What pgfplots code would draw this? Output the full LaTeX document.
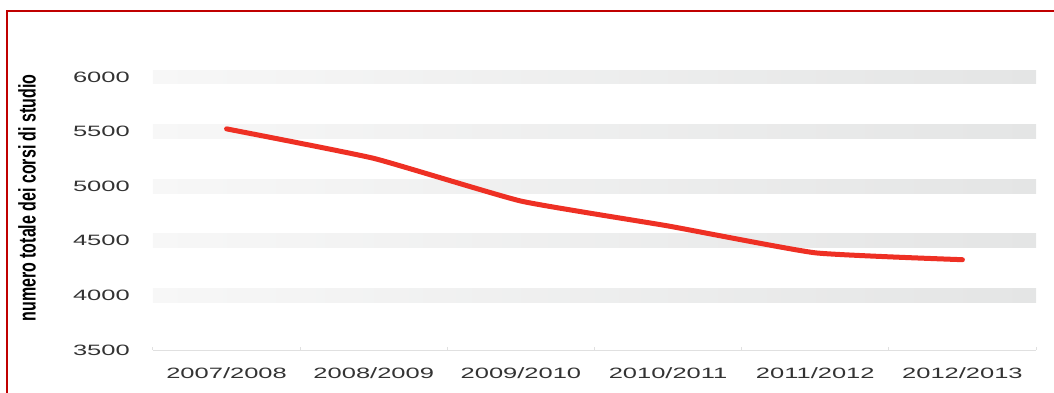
\documentclass[border=0pt]{standalone}
\usepackage{pgfplots}
\pgfplotsset{compat=1.18}
\usepackage{fontspec}
\setmainfont{Liberation Sans}
\definecolor{frame}{HTML}{C00000}
\definecolor{linered}{HTML}{EE3024}
\definecolor{bandL}{HTML}{F7F7F7}
\definecolor{bandR}{HTML}{E4E5E5}
\definecolor{tickc}{HTML}{333333}
\begin{document}
\begin{tikzpicture}
\clip (0,0) rectangle (1054pt,392pt);
\draw[frame, line width=2pt] (7pt,381pt) rectangle (1080pt,-20pt);
\begin{axis}[
  at={(153pt,42pt)}, anchor=south west,
  width=883pt, height=273pt, scale only axis,
  xmin=-0.5, xmax=5.5, ymin=3500, ymax=6000,
  clip=false,
  axis x line*=bottom, axis y line*=left,
  y axis line style={draw=none},
  x axis line style={draw=black!12, line width=1pt},
  xtick={0,1,2,3,4,5},
  xticklabels={\scalebox{1.7}[1]{2007/2008},\scalebox{1.7}[1]{2008/2009},\scalebox{1.7}[1]{2009/2010},\scalebox{1.7}[1]{2010/2011},\scalebox{1.7}[1]{2011/2012},\scalebox{1.7}[1]{2012/2013}},
  minor xtick={-0.5,0.5,1.5,2.5,3.5,4.5,5.5},
  major tick length=0pt,
  minor tick length=3pt,
  minor tick style={draw=black!12, line width=1pt},
  ytick={3500,4000,4500,5000,5500,6000},
  yticklabels={\scalebox{1.7}[1]{3500},\scalebox{1.7}[1]{4000},\scalebox{1.7}[1]{4500},\scalebox{1.7}[1]{5000},\scalebox{1.7}[1]{5500},\scalebox{1.7}[1]{6000}},
  tick label style={font=\fontsize{15}{18}\selectfont, text=tickc},
  yticklabel style={inner sep=0pt, anchor=east, xshift=-23pt},
  xticklabel style={inner sep=0pt, anchor=north, yshift=-17pt},
  ylabel={\scalebox{1}[1.5]{\bfseries\fontsize{16}{18}\selectfont numero totale dei corsi di studio}},
  every axis y label/.style={at={(rel axis cs:0,0.557)}, xshift=-126pt, rotate=90, anchor=center},
]
\shade[left color=bandL, right color=bandR] (axis cs:-0.5,3936) rectangle (axis cs:5.5,4064);
\shade[left color=bandL, right color=bandR] (axis cs:-0.5,4436) rectangle (axis cs:5.5,4564);
\shade[left color=bandL, right color=bandR] (axis cs:-0.5,4936) rectangle (axis cs:5.5,5064);
\shade[left color=bandL, right color=bandR] (axis cs:-0.5,5436) rectangle (axis cs:5.5,5564);
\shade[left color=bandL, right color=bandR] (axis cs:-0.5,5936) rectangle (axis cs:5.5,6064);
\addplot[linered, line width=5pt, smooth, tension=0.25, line cap=round] coordinates {
  (0,5525) (1,5255) (2,4864) (3,4636) (4,4390) (5,4327)
};
\end{axis}
\end{tikzpicture}
\end{document}
